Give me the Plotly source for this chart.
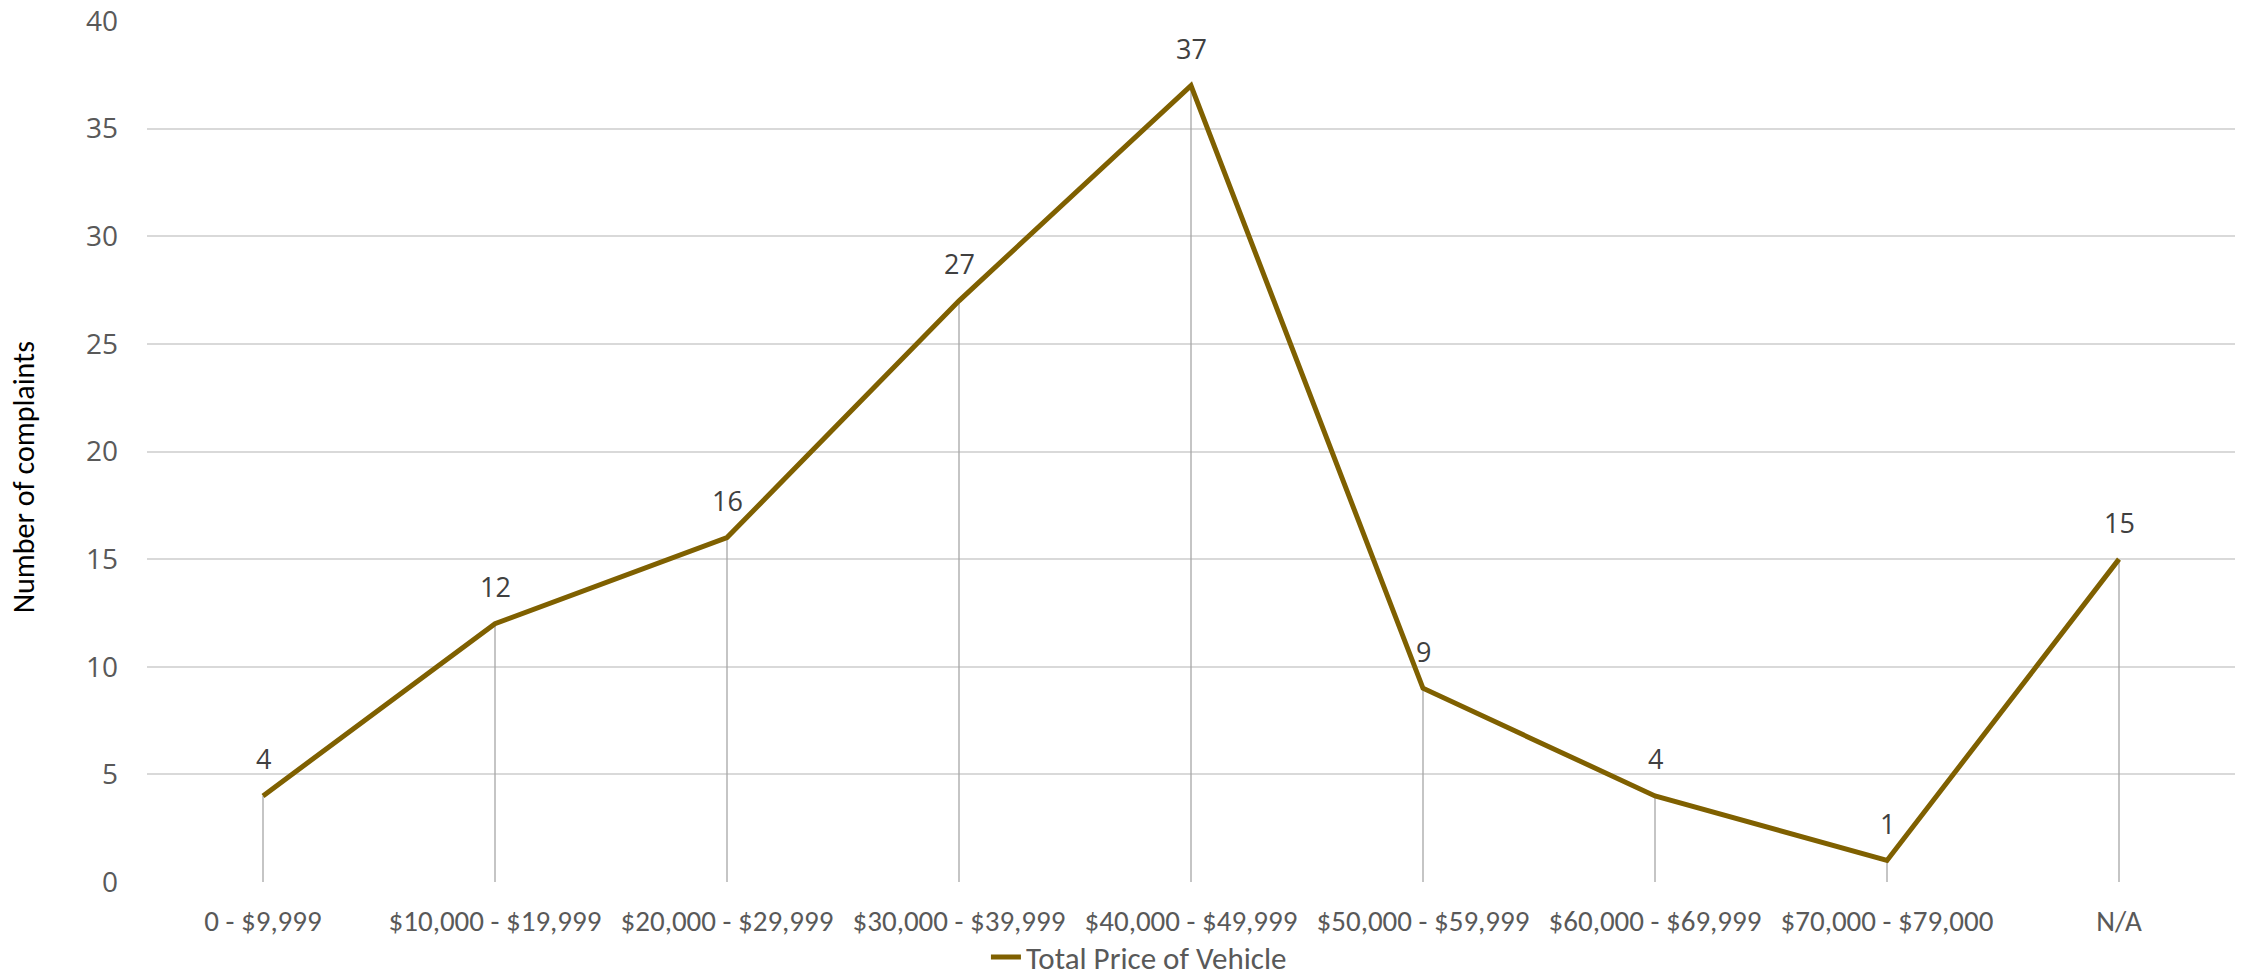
import plotly.graph_objects as go

# Complaint counts by vehicle price band
price_bands = ["0 - $9,999", "$10,000 - $19,999", "$20,000 - $29,999", "$30,000 - $39,999",
               "$40,000 - $49,999", "$50,000 - $59,999", "$60,000 - $69,999",
               "$70,000 - $79,000", "N/A"]
complaints = [4, 12, 16, 27, 37, 9, 4, 1, 15]
series_name = "Total Price of Vehicle"
y_ticks = [0, 5, 10, 15, 20, 25, 30, 35, 40]

LINE_COLOR = "#7f6000"
BODY_FONT = "Carlito, Calibri, Lato, sans-serif"
NUM_FONT = "Open Sans, sans-serif"

fig = go.Figure()
fig.add_trace(go.Scatter(
    x=price_bands,
    y=complaints,
    name=series_name,
    mode="lines",
    line=dict(color=LINE_COLOR, width=5),
    # drop lines from each point down to the axis
    error_y=dict(type="data", symmetric=False, array=[0] * len(complaints),
                 arrayminus=complaints, color="#a6a6a6", thickness=1.3, width=0),
))

# value labels above each point
annotations = [
    dict(x=cat, y=val, text=str(val), showarrow=False, xanchor="center",
         yanchor="middle", yshift=37,
         font=dict(family=NUM_FONT, size=27, color="#404040"))
    for cat, val in zip(price_bands, complaints)
]
annotations.append(dict(text="Number of complaints", textangle=-90,
                        xref="paper", yref="paper", x=-0.0594, y=0.47,
                        xanchor="center", yanchor="middle", showarrow=False,
                        font=dict(family=BODY_FONT, size=30, color="#000000")))

fig.update_layout(
    width=2242, height=978,
    margin=dict(l=147, r=7, t=21, b=96),
    paper_bgcolor="white", plot_bgcolor="white",
    showlegend=True,
    legend=dict(orientation="h", xref="container", yref="container",
                x=0.508, y=0.021, xanchor="center", yanchor="middle",
                font=dict(family=BODY_FONT, size=31, color="#595959"),
                bgcolor="rgba(0,0,0,0)"),
    xaxis=dict(type="category", range=[-0.5, len(price_bands) - 0.5],
               showgrid=False, zeroline=False, showline=False,
               tickangle=0, automargin=False,
               tickfont=dict(family=BODY_FONT, size=29, color="#595959"),
               ticklabelstandoff=19),
    yaxis=dict(range=[0, 40], tickvals=y_ticks, showgrid=True, automargin=False,
               gridcolor="#d9d9d9", gridwidth=1.6, zeroline=False, showline=False,
               ticklabeloverflow="allow",
               tickfont=dict(family=NUM_FONT, size=28, color="#595959"),
               ticklabelstandoff=28),
    annotations=annotations,
)

fig.write_html("out.html")
